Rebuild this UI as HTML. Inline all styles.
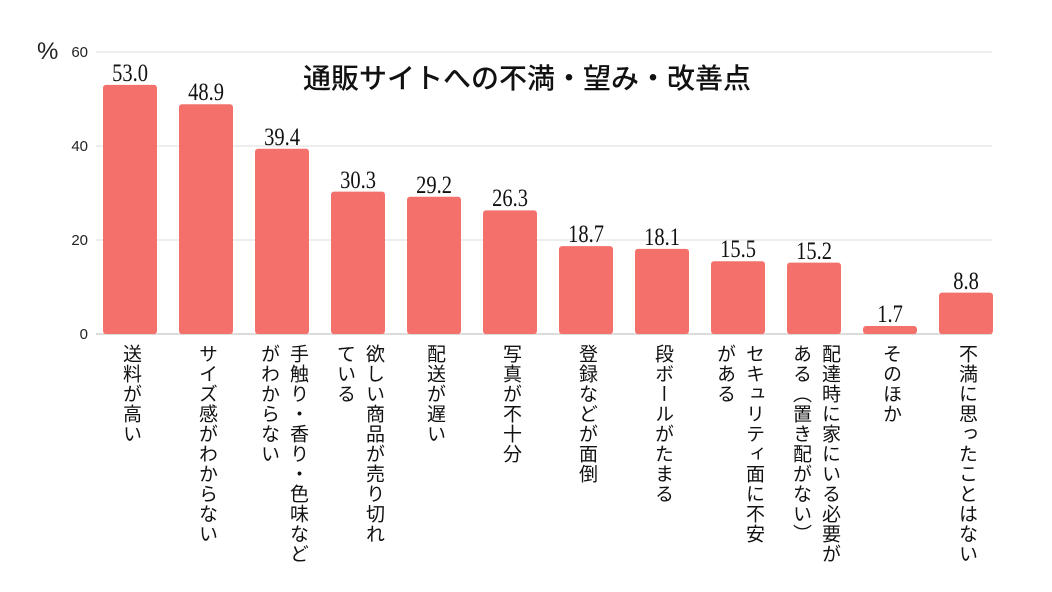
<!DOCTYPE html>
<html><head><meta charset="utf-8"><style>
body{margin:0;background:#fff;width:1052px;height:592px;overflow:hidden;font-family:"Liberation Sans","Noto Sans CJK JP",sans-serif}
.lab{position:absolute;top:344px;writing-mode:vertical-rl;font-size:19px;line-height:29px;color:#111;letter-spacing:1px;font-family:"Liberation Sans","Noto Sans CJK JP",sans-serif}
</style></head><body>
<svg width="1052" height="592" style="position:absolute;left:0;top:0" font-family="Liberation Sans, Noto Sans CJK JP, sans-serif">
<g stroke="#e4e4e4" stroke-width="1.2">
<line x1="96" x2="992" y1="52" y2="52"/><line x1="96" x2="992" y1="146" y2="146"/><line x1="96" x2="992" y1="240" y2="240"/>
</g>
<line x1="96" x2="992" y1="334" y2="334" stroke="#cfcfcf" stroke-width="1.5"/>
<g font-size="15" fill="#222" text-anchor="end">
<text x="88" y="57">60</text><text x="88" y="151">40</text><text x="88" y="245">20</text><text x="88" y="339">0</text>
</g>
<text x="37" y="59" font-size="24" fill="#222">%</text>
<text x="527" y="88" font-size="28" fill="#111" font-weight="500" text-anchor="middle" font-family="Noto Sans CJK JP, sans-serif">通販サイトへの不満・望み・改善点</text>
<g fill="#f4716b">
<rect x="103" y="84.9" width="54" height="249.1" rx="3"/>
<rect x="179" y="104.2" width="54" height="229.8" rx="3"/>
<rect x="255" y="148.8" width="54" height="185.2" rx="3"/>
<rect x="331" y="191.6" width="54" height="142.4" rx="3"/>
<rect x="407" y="196.8" width="54" height="137.2" rx="3"/>
<rect x="483" y="210.4" width="54" height="123.6" rx="3"/>
<rect x="559" y="246.1" width="54" height="87.9" rx="3"/>
<rect x="635" y="248.9" width="54" height="85.1" rx="3"/>
<rect x="711" y="261.2" width="54" height="72.8" rx="3"/>
<rect x="787" y="262.6" width="54" height="71.4" rx="3"/>
<rect x="863" y="326" width="54" height="8" rx="3"/>
<rect x="939" y="292.6" width="54" height="41.4" rx="3"/>
</g>
<g font-size="25" fill="#111" text-anchor="middle" font-family="Liberation Serif, serif">
<text transform="translate(130 81) scale(0.82 1)">53.0</text>
<text transform="translate(206 100) scale(0.82 1)">48.9</text>
<text transform="translate(282 145) scale(0.82 1)">39.4</text>
<text transform="translate(358 188) scale(0.82 1)">30.3</text>
<text transform="translate(434 193) scale(0.82 1)">29.2</text>
<text transform="translate(510 206) scale(0.82 1)">26.3</text>
<text transform="translate(586 242) scale(0.82 1)">18.7</text>
<text transform="translate(662 245) scale(0.82 1)">18.1</text>
<text transform="translate(738 257) scale(0.82 1)">15.5</text>
<text transform="translate(814 259) scale(0.82 1)">15.2</text>
<text transform="translate(890 322) scale(0.82 1)">1.7</text>
<text transform="translate(966 289) scale(0.82 1)">8.8</text>
</g>
</svg>
<div class="lab" style="left:116px">送料が高い</div>
<div class="lab" style="left:192px">サイズ感がわからない</div>
<div class="lab" style="left:254px">手触り・香り・色味など<br>がわからない</div>
<div class="lab" style="left:330px">欲しい商品が売り切れ<br>ている</div>
<div class="lab" style="left:420px">配送が遅い</div>
<div class="lab" style="left:496px">写真が不十分</div>
<div class="lab" style="left:572px">登録などが面倒</div>
<div class="lab" style="left:648px">段ボールがたまる</div>
<div class="lab" style="left:710px">セキュリティ面に不安<br>がある</div>
<div class="lab" style="left:786px">配達時に家にいる必要が<br>ある（置き配がない）</div>
<div class="lab" style="left:876px">そのほか</div>
<div class="lab" style="left:952px">不満に思ったことはない</div>
</body></html>
